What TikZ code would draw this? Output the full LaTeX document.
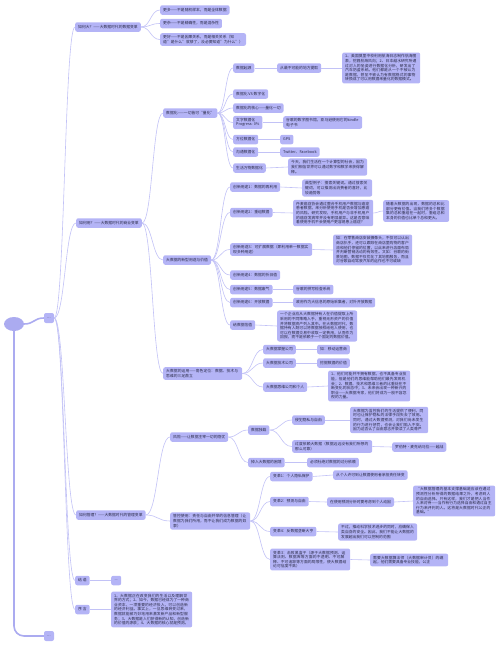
\documentclass[tikz,border=0pt]{standalone}
\usepackage{fontspec}
\setmainfont{Noto Sans CJK SC}
\XeTeXlinebreaklocale "zh"
\XeTeXlinebreakskip=0pt plus 0.5pt
\usetikzlibrary{calc,shapes.geometric}
\definecolor{nodefill}{HTML}{B4B4F6}
\definecolor{edgec}{HTML}{C2C2F6}
\definecolor{rootc}{HTML}{ABABF0}
\definecolor{textc}{HTML}{2A2A48}
\newcommand\fs{\fontsize{3.8}{4.6}\selectfont}
\newcommand\lnk[3][edge]{\draw[#1] let \p1=(#2.east), \p2=(#3.west), \n1={(\x2-\x1)/2} in (\p1) .. controls +(\n1,0) and +(-\n1,0) .. (\p2);}
\begin{document}
\begin{tikzpicture}[x=1pt,y=-1pt,
  mm/.style={fill=nodefill, rounded corners=2pt, inner xsep=3pt, inner ysep=2.2pt, font=\fs, text=textc, anchor=west, minimum height=9.5pt, align=left},
  tw/.style={text width=#1},
  edge/.style={draw=edgec, line width=0.6pt},
  rootedge/.style={draw=rootc, line width=1.6pt}]
\useasboundingbox (0,0) rectangle (500,648);
% root
\node[ellipse, fill=rootc, minimum width=20pt, minimum height=14pt, inner sep=0pt] (root) at (14,324) {};
\node[mm, anchor=center, minimum width=10pt, minimum height=10pt, inner sep=0pt] (n0) at (49,318) {...};
\node[mm, anchor=center, minimum width=10pt, minimum height=10pt, inner sep=0pt] (nb) at (49,636) {...};
% level 1
\node[mm] (A) at (75,27) {如何大？——大数据时代的数据变革};
\node[mm] (B) at (76,223) {如何用？——大数据时代的商业变革};
\node[mm] (C) at (76,515) {如何管理？——大数据时代的管理变革};
\node[mm] (D) at (75,580.5) {结\ 语};
\node[mm] (E) at (75,609.5) {序\ 言};
% A
\node[mm] (A1) at (160,10) {更多——不是随机样本，而是全体数据};
\node[mm] (A2) at (160,23.5) {更杂——不是精确性，而是混杂性};
\node[mm] (A3) at (160,39.5) {更好——不是因果关系，而是相关关系（知\\道"是什么"就够了，没必要知道"为什么"）};
% B
\node[mm] (B1) at (163,113) {数据化——一切皆可“量化”};
\node[mm] (B2) at (163,260) {大数据的新型用途与价值};
\node[mm,tw=73pt] (B3) at (163,373.5) {大数据的运用——角色定位：数据、技术与思维的三足鼎立};
% B1
\node[mm] (B1a) at (233,68) {数据起源};
\node[mm] (B1a1) at (277,68) {从最不可能的地方提取};
\node[mm,tw=72pt] (B1a1x) at (342,68) {1、美国莫里中校利用航海日志制作航海图表，挖掘航海风向；2、日本越水研究所通过对人的坐姿进行数据化分析，研发出了汽车防盗系统。他们都是从一个不被认为是数据，甚至不被认为有数据格式的事物转换成了可以用数据来量化的数据模式。};
\node[mm] (B1b) at (233,94) {数据化 VS 数字化};
\node[mm] (B1c) at (233,108) {数据化的核心——量化一切};
\node[mm] (B1d) at (233,122.5) {文字数据化\\Progress: 0\%};
\node[mm,tw=73pt] (B1d1) at (283,122.5) {谷歌的数字图书馆，亚马逊使用它的kindle电子书};
\node[mm] (B1e) at (233,139.5) {方位数据化};
\node[mm] (B1e1) at (280,139.5) {GPS};
\node[mm] (B1f) at (233,152) {沟通数据化};
\node[mm] (B1f1) at (280,152) {Twitter、Facebook};
\node[mm] (B1g) at (233,168) {生活万物数据化};
\node[mm,tw=73pt] (B1g1) at (288,167) {今天，我们生活在一个计算型的社会，因为我们相信世界可以通过数字和数学来获得解释。};
% B2
\node[mm] (B2a) at (230,187) {创新用途1：数据的再利用};
\node[mm,tw=64pt] (B2a1) at (302,188) {典型例子：搜索关键词。通过搜索关键词，可以推测出消费者的喜好，比较趋势等};
\node[mm] (B2b) at (230,212.5) {创新用途2：重组数据};
\node[mm,tw=74pt] (B2b1) at (293,213) {丹麦癌症协会通过整合手机用户数据与癌症患者数据，来分析使用手机是否会增加患癌的风险。研究发现，手机用户与非手机用户的癌症发病率并没有明显差异。这是否意味着使用手机不会使用户更容易患上癌症？};
\node[mm,tw=60pt] (B2b1a) at (383,211) {随着大数据的出现，数据的总和比部分更有价值。当我们将多个数据集的总和重组在一起时，重组总和本身的价值也比单个总和更大。};
\node[mm,tw=76pt] (B2c) at (230,249.5) {创新用途3：可扩展数据（即利用单一数据实现多种用途）};
\node[mm,tw=73pt] (B2c1) at (333,250) {如：在零售商店安装摄像头，不仅可以认出商店扒手，还可以跟踪在商店里购物的客户流和他们停留的位置，以此来进行店面布局并判断营销活动的有效性。又如：谷歌的街景地图，数据不仅优化了其地图服务，而且对谷歌自动驾驶汽车的运作也不可或缺};
\node[mm] (B2d) at (230,275) {创新用途4：数据的折旧值};
\node[mm] (B2e) at (230,289.5) {创新用途5：数据废气};
\node[mm] (B2e1) at (293,289.5) {谷歌的拼写检查系统};
\node[mm] (B2f) at (230,302.5) {创新用途6：开放数据};
\node[mm] (B2f1) at (293,302.5) {政府作为大信息的原始采集者，对外开放数据};
\node[mm] (B2g) at (230,325) {给数据估值};
\node[mm,tw=74pt] (B2g1) at (277,326) {一个企业应从大数据持有人在价值提取上所采用的不同策略入手，重视无形资产的价值并将数据资产列入其中。在大数据时代，数据持有人既可以将数据授权给他人使用，也可以在数据交易中收取一定费用，从而作为回报，而不是依赖于一个固定的数据价值。};
% B3
\node[mm] (B3a) at (263,349.5) {大数据掌握公司};
\node[mm] (B3a1) at (317,349.5) {如：移动运营商};
\node[mm] (B3b) at (263,363) {大数据技术公司};
\node[mm] (B3b1) at (317,363) {挖掘数据的价值};
\node[mm] (B3c) at (263,387) {大数据思维公司和个人};
\node[mm,tw=76pt] (B3c1) at (328,386) {1、他们可能并不拥有数据，也不具备专业技能，但是他们的思维能帮助他们最先发现机会；2、数据、技术和思维三者的比重处在不断变化的状态中；3、未来会出现一种新兴的职业——大数据专家，他们将成为一股不容忽视的力量。};
% C
\node[mm] (C1) at (170,437) {风险——让数据主宰一切的隐忧};
\node[mm] (C1a) at (248,430) {数据独裁};
\node[mm] (C1a1) at (292,420) {侵犯隐私与自由};
\node[mm,tw=72pt] (C1a1x) at (350,420) {大数据为监控我们的生活提供了便利，同时也让保护隐私的法律手段失去了效用。同时，通过大数据预测，对我们尚未发生的行为进行惩罚，也会让我们陷入不安。因为这否认了自由意志并亵渎了人类尊严};
\node[mm,tw=74pt] (C1a2) at (292,446.5) {过度依赖大数据（数据远远没有我们所想的那么可靠）};
\node[mm] (C1a2x) at (392,447) {罗伯特·麦克纳马拉——越战};
\node[mm] (C1b) at (248,462.5) {掉入大数据的困境};
\node[mm] (C1b1) at (307,462.5) {必须杜绝对数据的过分依赖};
\node[mm,tw=74pt] (C2) at (170,521) {管控使用：责任与自由并举的信息管理（让数据为我们所用，而不让我们成为数据的奴隶）};
\node[mm] (C2a) at (270,476.5) {变革1：个人隐私保护};
\node[mm] (C2a1) at (333,475) {从个人许可到让数据使用者承担责任转变};
\node[mm] (C2b) at (270,501.5) {变革2：预测与自由};
\node[mm] (C2b1) at (327,502) {在使用预测分析时要考虑到个人动因};
\node[mm,tw=76pt] (C2b1x) at (413,501) {“大数据管理的基本支撑基础是应该在通过预测性分析所得的数据结果之外，考虑到人的自由选择。只有这样，我们才是把人当作人来对待——当作有行为选择自由和通过自主行为来评判的人。这将是大数据时代公正的基础。”};
\node[mm] (C2c) at (270,531.5) {变革4：反数据垄断大亨};
\node[mm,tw=73pt] (C2c1) at (338,532) {不过，推动科学技术进步的同时，应确保人类自身的安全。因此，我们不能让大数据的发展超出我们可以控制的范围};
\node[mm,tw=74pt] (C2d) at (270,559.5) {变革3：击败黑盒子（源于大数据预测、运算法则、数据库等方面的不透明、不可解释、不可追踪等方面的局限性，使大数据结论可信度不高）};
\node[mm,tw=72pt] (C2d1) at (370,560) {需要大数据算法师（大数据审计员）的崛起，他们需要具备专业技能，公正};
% D, E
\node[mm, minimum width=10pt] (D1) at (111,580.5) {...};
\node[mm,tw=75pt] (E1) at (111,609.5) {1、大数据正在改变我们的生活以及理解世界的方式；2、如今，数据已经成为了一种商业资本，一项重要的经济投入，可以创造新的经济利益。事实上，一旦思维转变过来，数据就能被巧妙地用来激发新产品和新型服务；3、大数据是人们获得新的认知，创造新的价值的源泉；4、大数据的核心就是预测。};
% connectors
\lnk[rootedge]{root}{n0}
\draw[rootedge, rounded corners=10pt] (root.south) |- (nb.west);
\lnk{n0}{A}\lnk{n0}{B}\lnk{n0}{C}\lnk{n0}{D}\lnk{n0}{E}
\lnk{A}{A1}\lnk{A}{A2}\lnk{A}{A3}
\lnk{B}{B1}\lnk{B}{B2}\lnk{B}{B3}
\lnk{B1}{B1a}\lnk{B1a}{B1a1}\lnk{B1a1}{B1a1x}
\lnk{B1}{B1b}\lnk{B1}{B1c}\lnk{B1}{B1d}\lnk{B1d}{B1d1}
\lnk{B1}{B1e}\lnk{B1e}{B1e1}\lnk{B1}{B1f}\lnk{B1f}{B1f1}
\lnk{B1}{B1g}\lnk{B1g}{B1g1}
\lnk{B2}{B2a}\lnk{B2a}{B2a1}\lnk{B2}{B2b}\lnk{B2b}{B2b1}\lnk{B2b1}{B2b1a}
\lnk{B2}{B2c}\lnk{B2c}{B2c1}\lnk{B2}{B2d}\lnk{B2}{B2e}\lnk{B2e}{B2e1}
\lnk{B2}{B2f}\lnk{B2f}{B2f1}\lnk{B2}{B2g}\lnk{B2g}{B2g1}
\lnk{B3}{B3a}\lnk{B3a}{B3a1}\lnk{B3}{B3b}\lnk{B3b}{B3b1}\lnk{B3}{B3c}\lnk{B3c}{B3c1}
\lnk{C}{C1}\lnk{C1}{C1a}\lnk{C1a}{C1a1}\lnk{C1a1}{C1a1x}\lnk{C1a}{C1a2}\lnk{C1a2}{C1a2x}
\lnk{C1}{C1b}\lnk{C1b}{C1b1}
\lnk{C}{C2}\lnk{C2}{C2a}\lnk{C2a}{C2a1}\lnk{C2}{C2b}\lnk{C2b}{C2b1}\lnk{C2b1}{C2b1x}
\lnk{C2}{C2c}\lnk{C2c}{C2c1}\lnk{C2}{C2d}\lnk{C2d}{C2d1}
\lnk{D}{D1}\lnk{E}{E1}
\end{tikzpicture}
\end{document}
